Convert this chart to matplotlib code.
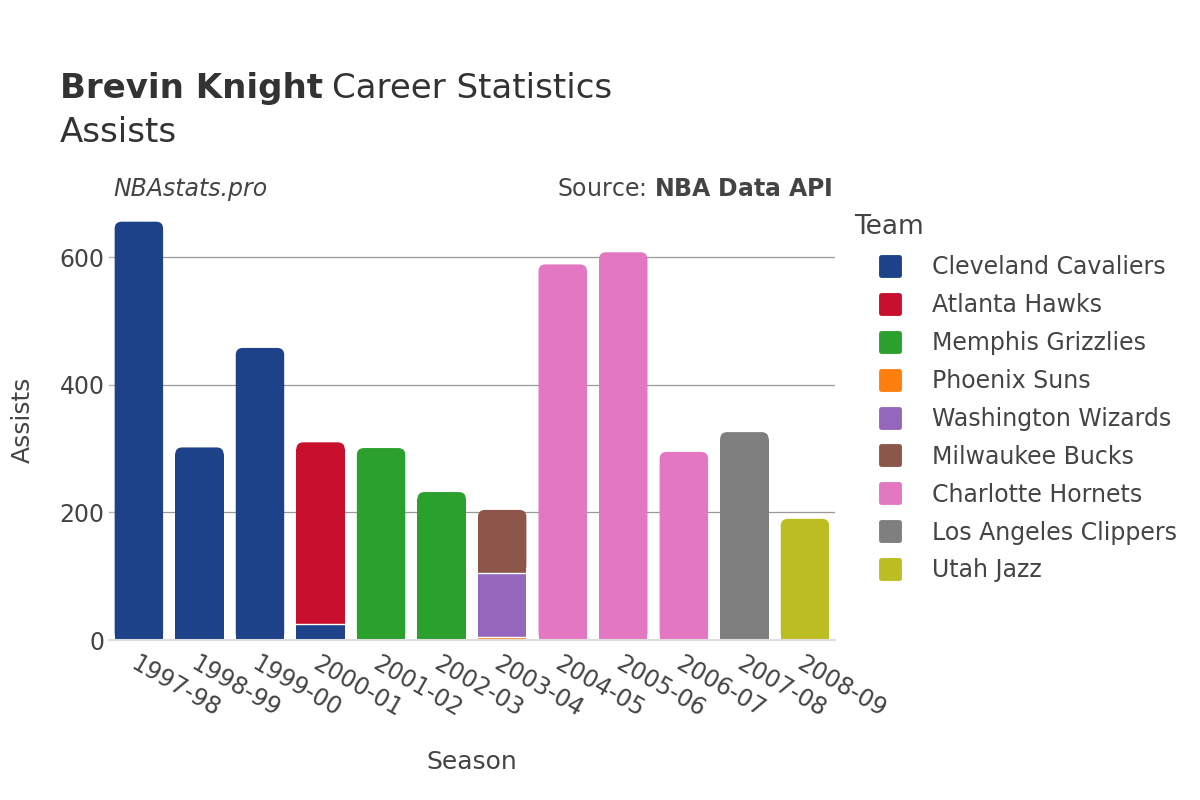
import matplotlib
matplotlib.use("Agg")
import matplotlib.pyplot as plt
import numpy as np
from matplotlib.lines import Line2D
from matplotlib.markers import MarkerStyle
from matplotlib.patches import FancyBboxPatch

seasons = ["1997-98", "1998-99", "1999-00", "2000-01", "2001-02", "2002-03",
           "2003-04", "2004-05", "2005-06", "2006-07", "2007-08", "2008-09"]
teams = ["Cleveland Cavaliers", "Atlanta Hawks", "Memphis Grizzlies", "Phoenix Suns",
         "Washington Wizards", "Milwaukee Bucks", "Charlotte Hornets",
         "Los Angeles Clippers", "Utah Jazz"]
colors = ["#1d428a", "#c8102e", "#2ca02c", "#ff7f0e", "#9467bd", "#8c564b",
          "#e377c2", "#7f7f7f", "#bcbd22"]

cleveland = [656, 302, 458, 25, 0, 0, 0, 0, 0, 0, 0, 0]
atlanta   = [0, 0, 0, 285, 0, 0, 0, 0, 0, 0, 0, 0]
memphis   = [0, 0, 0, 0, 301, 232, 0, 0, 0, 0, 0, 0]
phoenix   = [0, 0, 0, 0, 0, 0, 4, 0, 0, 0, 0, 0]
washington = [0, 0, 0, 0, 0, 0, 101, 0, 0, 0, 0, 0]
milwaukee = [0, 0, 0, 0, 0, 0, 99, 0, 0, 0, 0, 0]
charlotte = [0, 0, 0, 0, 0, 0, 0, 589, 608, 295, 0, 0]
clippers  = [0, 0, 0, 0, 0, 0, 0, 0, 0, 0, 326, 0]
utah      = [0, 0, 0, 0, 0, 0, 0, 0, 0, 0, 0, 190]

series = [cleveland, atlanta, memphis, phoenix, washington, milwaukee,
          charlotte, clippers, utah]

plt.rcParams['font.family'] = ['DejaVu Sans']
fig = plt.figure(figsize=(12, 8), dpi=100)
AX_L, AX_B, AX_W, AX_H = 0.0905, 0.2, 0.6055, 0.55
ax = fig.add_axes([AX_L, AX_B, AX_W, AX_H])

YMAX = 690
ax.set_xlim(-0.5, len(seasons) - 0.5)
ax.set_ylim(0, YMAX)

# pixel -> data scale for rounding the bar tops
x_per_px = len(seasons) / (AX_W * 1200)
y_per_px = YMAX / (AX_H * 800)
radius_px = 7
rx = radius_px * x_per_px
ry = radius_px * y_per_px

x = np.arange(len(seasons))
bottom = np.zeros(len(seasons))
top_rect = {}
for vals, col in zip(series, colors):
    v = np.array(vals, dtype=float)
    mask = v > 0
    bars = ax.bar(x[mask], v[mask], bottom=bottom[mask], width=0.8, color=col,
                  edgecolor=col, linewidth=0, zorder=3)
    for xi, b, by in zip(x[mask], bars, bottom[mask]):
        top_rect[xi] = (b, col)
        if by > 0:
            ax.plot([b.get_x(), b.get_x() + b.get_width()], [by, by],
                    color="white", linewidth=1.0, zorder=5)
    bottom += v

for xi, (b, col) in top_rect.items():
    x0, y0, w, h = b.get_x(), b.get_y(), b.get_width(), b.get_height()
    if h > 2 * ry:
        b.set_height(h - ry)
        p = FancyBboxPatch((x0, y0), w, h,
                           boxstyle=f"round,pad=0,rounding_size={rx}",
                           mutation_aspect=y_per_px / x_per_px,
                           facecolor=col, edgecolor="none", linewidth=0,
                           zorder=3.5)
        ax.add_patch(p)

ax.set_yticks([0, 200, 400, 600])
ax.yaxis.grid(True, color="#999999", linewidth=0.9, zorder=0)
ax.set_axisbelow(True)
for s in ["top", "right", "left"]:
    ax.spines[s].set_visible(False)
ax.spines["bottom"].set_color("#dddddd")
ax.spines["bottom"].set_linewidth(1.5)
ax.spines["bottom"].set_zorder(6)
ax.tick_params(axis="y", direction="in", length=5, color="#bbbbbb",
               labelsize=17, labelcolor="#444444", pad=3)
ax.tick_params(axis="x", length=0, labelsize=17, labelcolor="#444444", pad=8)
ax.set_xticks(x)
ax.set_xticklabels(seasons, rotation=-30, ha="left", rotation_mode="anchor")

ax.set_xlabel("Season", fontsize=18, color="#444444", labelpad=21)
ax.set_ylabel("Assists", fontsize=18, color="#444444", labelpad=18)

fig.text(0.05, 0.877, "Brevin Knight", fontsize=24.5, fontweight="bold", color="#333333")
fig.text(0.277, 0.877, "Career Statistics", fontsize=24.5, color="#333333")
fig.text(0.05, 0.822, "Assists", fontsize=24.5, color="#333333")

ax.text(0.007, 1.025, "NBAstats.pro", transform=ax.transAxes, fontsize=17,
        style="italic", color="#444444", ha="left", va="center")
ax.text(0.997, 1.025, "Source: $\\bf{NBA\\ Data\\ API}$", transform=ax.transAxes,
        fontsize=17, color="#444444", ha="right", va="center")

fig.text(0.712, 0.716, "Team", fontsize=19, color="#444444", ha="left", va="center")

mk = MarkerStyle("s", joinstyle="round")
handles = [Line2D([0], [0], marker=mk, linestyle="none", markersize=13,
                  markeredgewidth=3.5, markerfacecolor=c, markeredgecolor=c)
           for c in colors]
leg = fig.legend(handles, teams, loc="upper left", bbox_to_anchor=(0.718, 0.693),
                 frameon=False, fontsize=17, labelspacing=0.59, handlelength=1.6,
                 handletextpad=1.0, borderaxespad=0)
for t in leg.get_texts():
    t.set_color("#444444")

fig.savefig("out.png", dpi=100, facecolor="white")
